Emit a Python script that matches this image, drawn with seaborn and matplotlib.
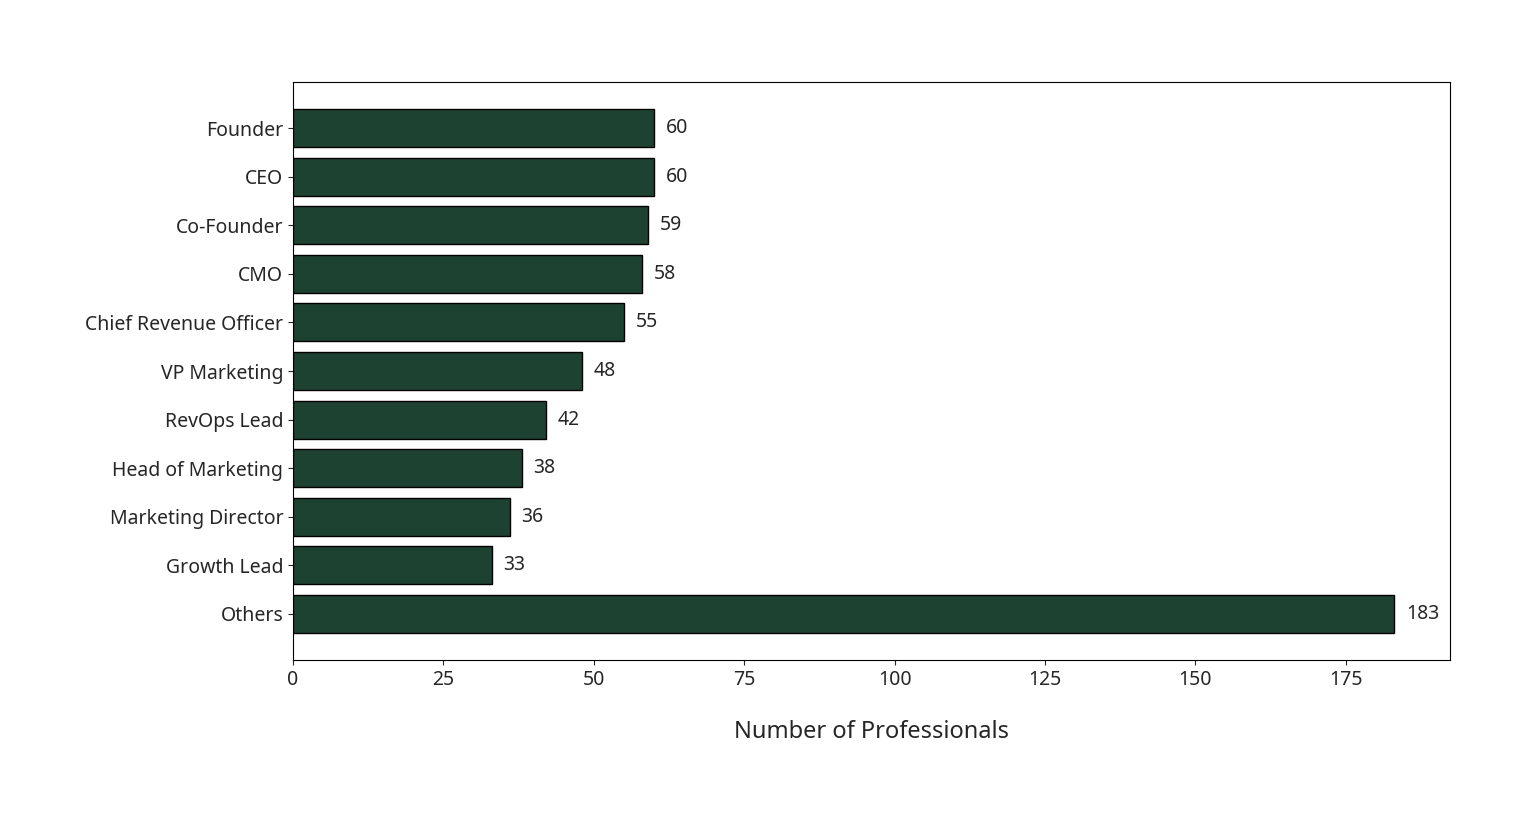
import matplotlib
matplotlib.use("Agg")
import matplotlib.pyplot as plt
import seaborn as sns
import pandas as pd

roles = ["Founder", "CEO", "Co-Founder", "CMO", "Chief Revenue Officer", "VP Marketing",
         "RevOps Lead", "Head of Marketing", "Marketing Director", "Growth Lead", "Others"]
counts = [60, 60, 59, 58, 55, 48, 42, 38, 36, 33, 183]

sns.set_style("ticks")
plt.rcParams['font.family'] = ['Noto Sans', 'DejaVu Sans']

df = pd.DataFrame({"role": roles, "count": counts})
fig = plt.figure(figsize=(15.36, 8.15), dpi=100)
ax = fig.add_axes([293/1536, 1-660/815, (1450-293)/1536, (660-82)/815])
sns.barplot(data=df, y="role", x="count", orient="h", color="#1e4232",
            saturation=1, edgecolor="black", linewidth=1, width=0.78, ax=ax)
for i, v in enumerate(counts):
    ax.text(v + 2, i, str(v), va="center", ha="left", fontsize=14)
ax.set_xlim(0, 192.3)
ax.set_ylim(10.95, -0.95)
ax.set_xticks([0, 25, 50, 75, 100, 125, 150, 175])
ax.tick_params(labelsize=14)
ax.set_ylabel("")
ax.set_xlabel("Number of Professionals", fontsize=17, labelpad=22)
for s in ax.spines.values():
    s.set_visible(True)
    s.set_color("black")
fig.savefig("out.png", dpi=100, facecolor="white")
